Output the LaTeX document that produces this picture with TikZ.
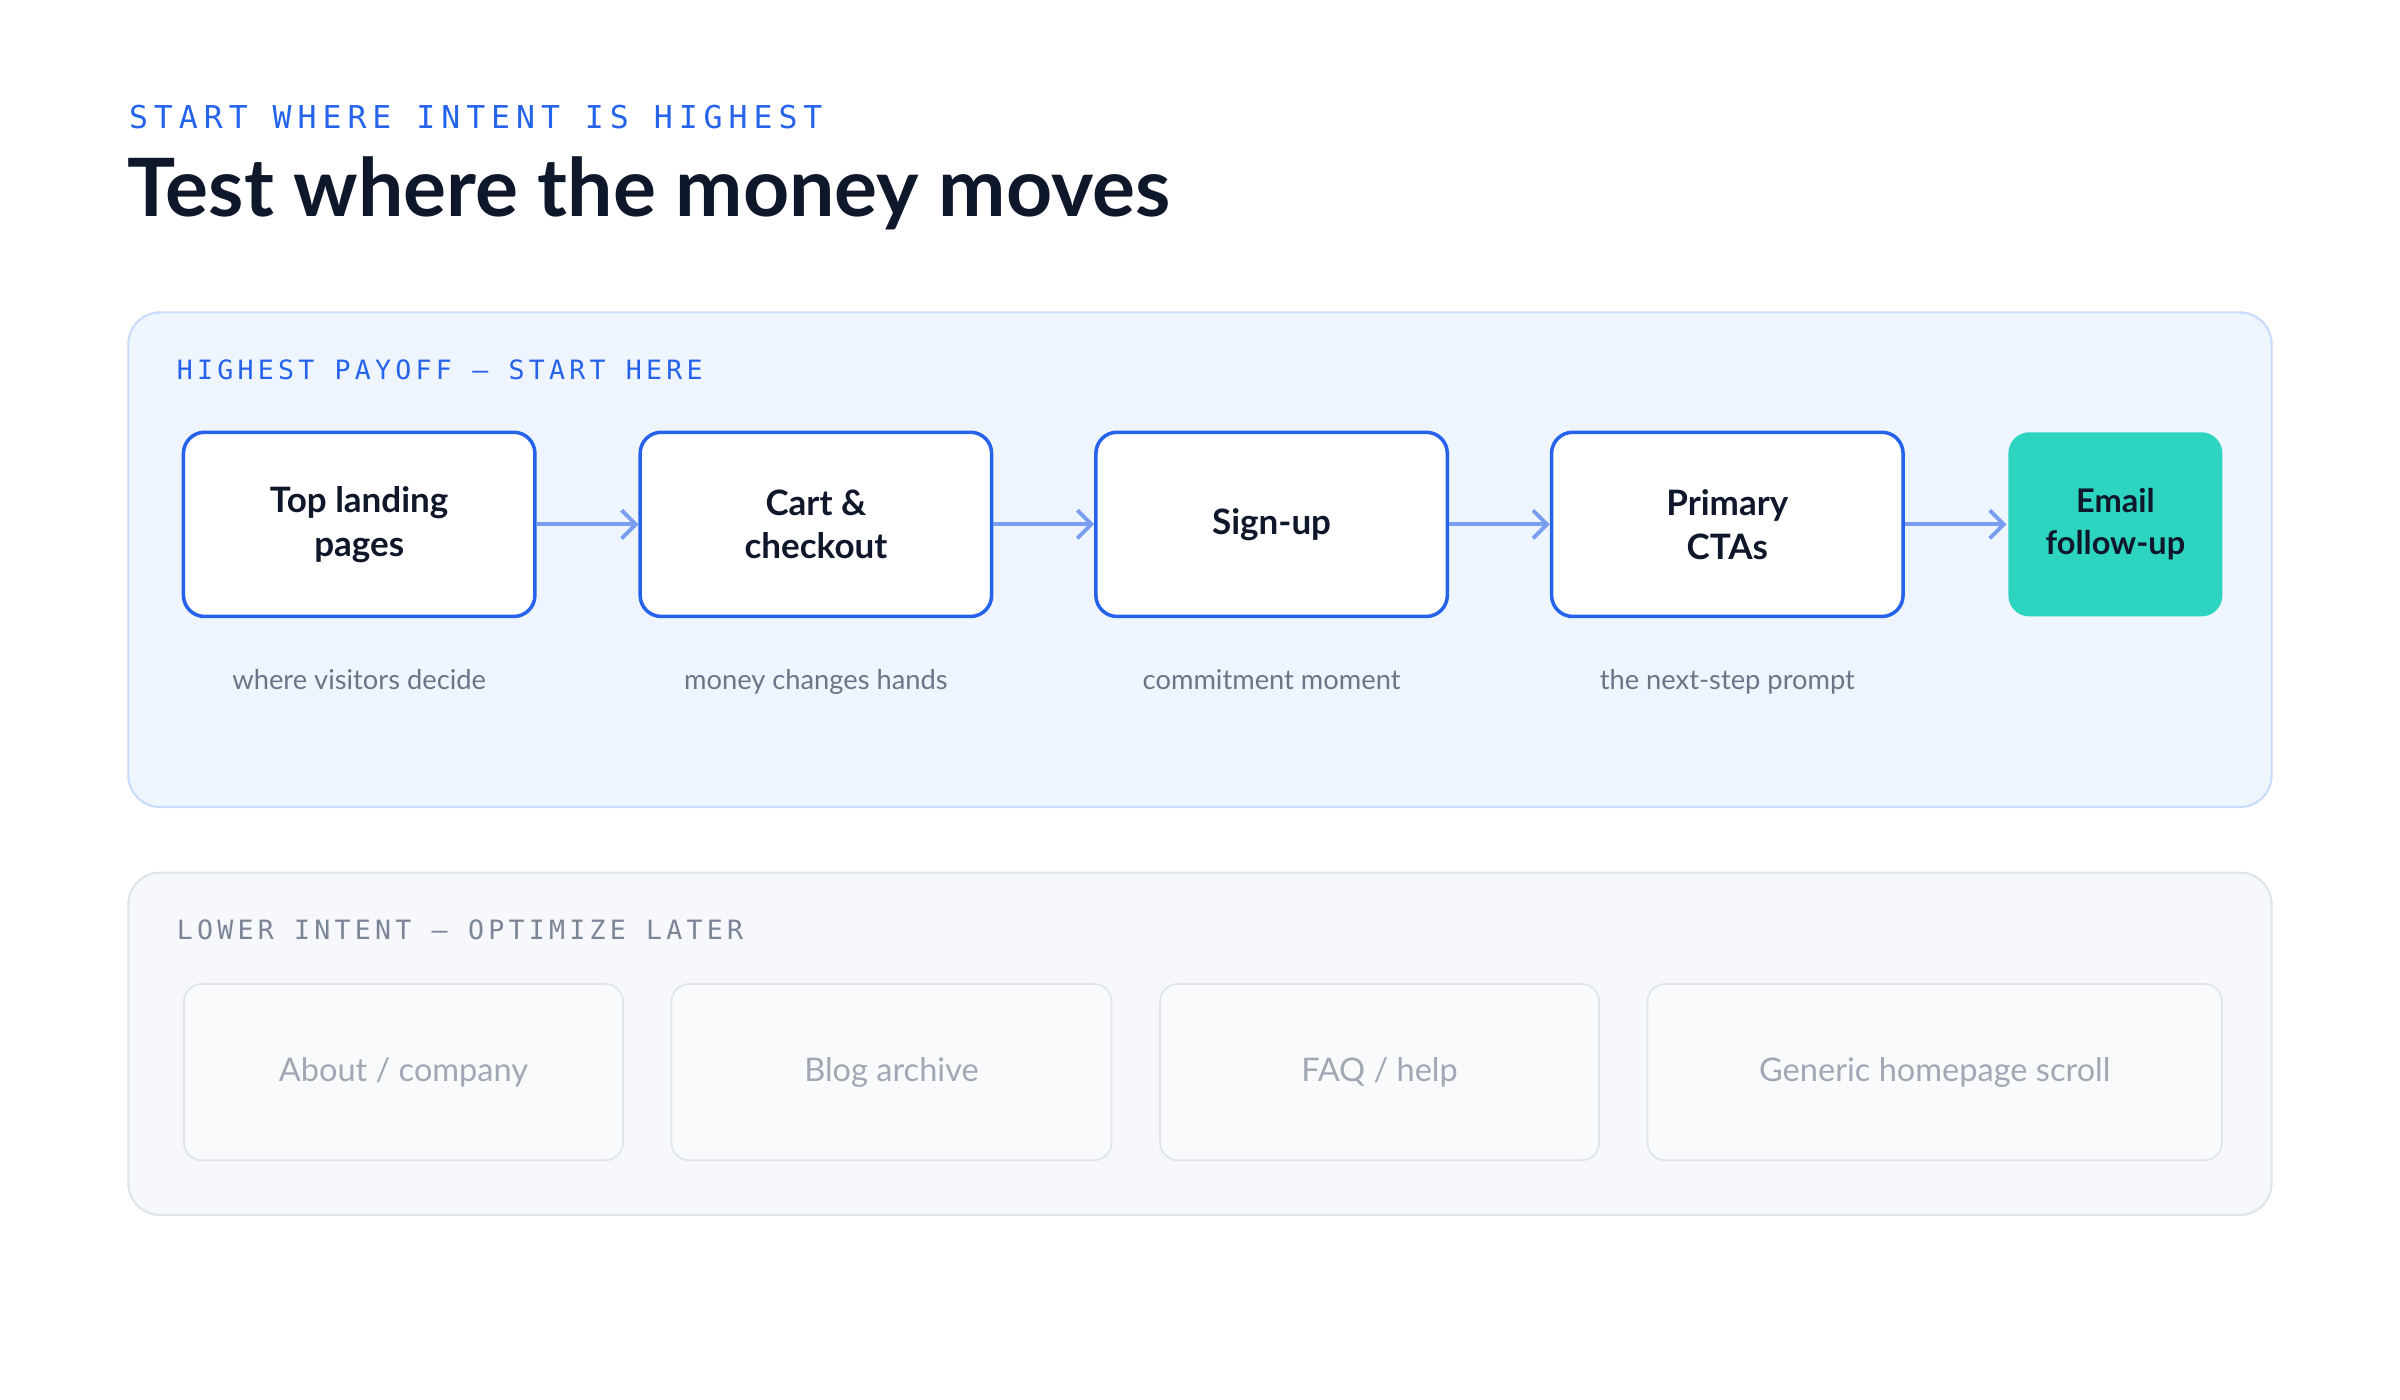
\documentclass[tikz,border=0pt]{standalone}
\usepackage{fontspec}
\setmainfont{Lato}
\newfontfamily\tagfont[LetterSpace=19]{DejaVu Sans Mono}
\newfontfamily\smtagfont[LetterSpace=16]{DejaVu Sans Mono}
\usetikzlibrary{arrows.meta}
\definecolor{ink}{HTML}{0F172A}
\definecolor{blu}{HTML}{2563EB}
\definecolor{arr}{HTML}{7A9EEF}
\definecolor{pfill}{HTML}{EFF5FF}
\definecolor{pline}{HTML}{C9DCFA}
\definecolor{lfill}{HTML}{F6F8FB}
\definecolor{lline}{HTML}{E0E5ED}
\definecolor{gfill}{HTML}{F9FAFC}
\definecolor{gtext}{HTML}{A0A8B5}
\definecolor{subt}{HTML}{6B7585}
\definecolor{ltag}{HTML}{7A8597}
\definecolor{teal}{HTML}{2DD4BF}
\tikzset{
 stepbox/.style={draw=blu,line width=1pt,fill=white,rounded corners=6pt,inner sep=0pt,align=center,font=\fontsize{10}{12.5}\selectfont\bfseries,text=ink},
 lowbox/.style={draw=lline,line width=0.5pt,fill=gfill,rounded corners=5pt,inner sep=0pt,font=\fontsize{9.3}{12}\selectfont,text=gtext},
 sublab/.style={font=\fontsize{7.8}{10}\selectfont,text=subt,anchor=base},
 flow/.style={draw=arr,line width=1.1pt,-{Straight Barb[length=4pt,width=8pt]}}
}
\begin{document}
\begin{tikzpicture}[x=0.01cm,y=-0.01cm]
\useasboundingbox[fill=white] (0,0) rectangle (2400,1400);
\begin{scope}[scale=0.995,transform shape]
\node[anchor=base west,inner sep=0,text=blu,font=\fontsize{9}{11}\selectfont\tagfont] (tag) at (129,129) {START WHERE INTENT IS HIGHEST};
\node[anchor=base west,inner sep=0,text=ink,font=\fontsize{23}{28}\selectfont\bfseries] (title) at (127,218) {Test where the money moves};
% top panel
\draw[fill=pfill,draw=pline,line width=0.6pt,rounded corners=9pt] (129,314) rectangle (2283,811);
\node[anchor=base west,inner sep=0,text=blu,font=\fontsize{7.6}{9}\selectfont\smtagfont] (ptag) at (177,381) {HIGHEST PAYOFF — START HERE};
\path (361,527) node[stepbox,minimum width=1cm*3.53,minimum height=1cm*1.85] (b1) {Top landing\\pages};
\path (820,527) node[stepbox,minimum width=1cm*3.53,minimum height=1cm*1.85] (b2) {Cart \&\\checkout};
\path (1278,527) node[stepbox,minimum width=1cm*3.53,minimum height=1cm*1.85] (b3) {Sign-up};
\path (1736,527) node[stepbox,minimum width=1cm*3.53,minimum height=1cm*1.85] (b4) {Primary\\CTAs};
\path (2126,527) node[stepbox,draw=none,fill=teal,minimum width=1cm*2.15,minimum height=1cm*1.85,font=\fontsize{9.3}{12}\selectfont\bfseries] (b5) {Email\\follow-up};
\foreach \a/\b in {b1/b2,b2/b3,b3/b4,b4/b5} \draw[flow] (\a.east) -- (\b.west);
\node[sublab] (s1) at (361,693) {where visitors decide};
\node[sublab] (s2) at (820,693) {money changes hands};
\node[sublab] (s3) at (1278,693) {commitment moment};
\node[sublab] (s4) at (1736,693) {the next-step prompt};
% lower panel
\draw[fill=lfill,draw=lline,line width=0.6pt,rounded corners=9pt] (129,877) rectangle (2283,1221);
\node[anchor=base west,inner sep=0,text=ltag,font=\fontsize{7.6}{9}\selectfont\smtagfont] (ltg) at (177,944) {LOWER INTENT — OPTIMIZE LATER};
\path (405.5,1077.5) node[lowbox,minimum width=1cm*4.41,minimum height=1cm*1.77] (g1) {About / company};
\path (896,1077.5) node[lowbox,minimum width=1cm*4.42,minimum height=1cm*1.77] (g2) {Blog archive};
\path (1386.5,1077.5) node[lowbox,minimum width=1cm*4.41,minimum height=1cm*1.77] (g3) {FAQ / help};
\path (1944.5,1077.5) node[lowbox,minimum width=1cm*5.77,minimum height=1cm*1.77] (g4) {Generic homepage scroll};
\end{scope}
\end{tikzpicture}
\end{document}
